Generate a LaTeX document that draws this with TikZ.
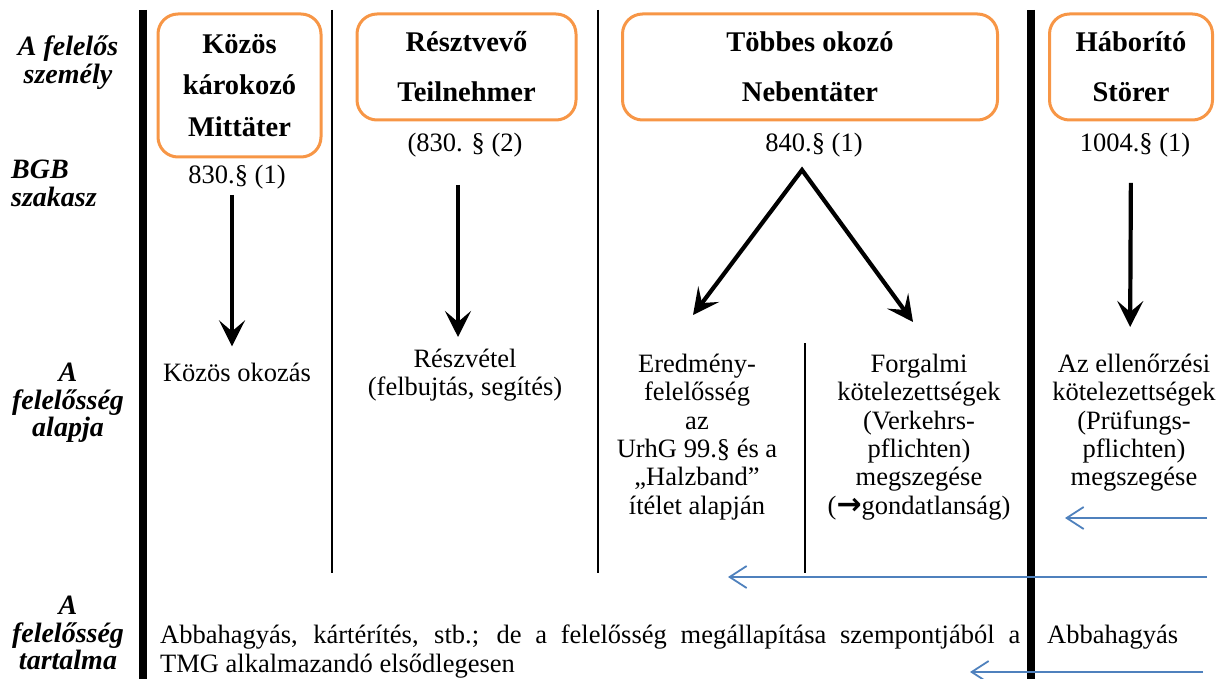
\documentclass[tikz,border=0pt]{standalone}
\usepackage{fontspec}
\setmainfont{Liberation Serif}
\newfontfamily\arrowfont{DejaVu Sans}
\usetikzlibrary{arrows.meta, positioning}
\definecolor{boxorange}{HTML}{F79646}
\definecolor{arrowblue}{HTML}{4F81BD}

\begin{document}
\begin{tikzpicture}[x=1pt, y=-1pt,
    rowlabel/.style={font=\bfseries\itshape\fontsize{28}{27.5}\selectfont, align=center, inner sep=0pt},
    persbox/.style={draw=boxorange, line width=3pt, rounded corners=20pt, align=center, inner sep=0pt,
                    minimum height=106pt, font=\bfseries\fontsize{28.5}{50}\selectfont},
    body/.style={font=\fontsize{26.5}{28.3}\selectfont, align=center, inner sep=0pt},
    thickrule/.style={line width=8pt},
    thinrule/.style={line width=1.6pt},
    bigarrow/.style={line width=4.2pt, line join=miter, -{Stealth[length=26pt, width=26pt, inset=11pt]}},
    backarrow/.style={arrowblue, line width=1.8pt, -{Straight Barb[length=17pt, width=22pt]}}
]
\useasboundingbox (0,0) rectangle (1217,679);

% row labels
\node[rowlabel, anchor=north] (lszem) at (68,36) {A felelős\\személy};
\node[rowlabel, anchor=north west, align=left] (lbgb) at (11,160) {BGB\\szakasz};
\node[rowlabel, anchor=north] (lalap) at (68,363) {A\\felelősség\\alapja};
\node[rowlabel, anchor=north] (ltart) at (68,596) {A\\felelősség\\tartalma};

% column rules
\draw[thickrule] (143,10) -- (143,679);
\draw[thinrule] (332,10) -- (332,573);
\draw[thinrule] (598,10) -- (598,573);
\draw[thinrule] (805,343) -- (805,573);
\draw[thickrule] (1031,10) -- (1031,679);

% persons
\node[persbox, minimum width=163pt, minimum height=143pt,
      font=\bfseries\fontsize{28.5}{41.5}\selectfont] (mittater) at (239.5,85.5) {Közös\\károkozó\\Mittäter};
\node[persbox, minimum width=219pt] (teilnehmer) at (466.5,67) {Résztvevő\\Teilnehmer};
\node[persbox, minimum width=375pt] (nebentater) at (810,67) {Többes okozó\\Nebentäter};
\node[persbox, minimum width=163pt] (storer) at (1131,67) {Háborító\\Störer};

% BGB sections
\node[body, anchor=base] (s830a) at (237,183) {830.§ (1)};
\node[body, anchor=base] (s830b) at (465,152) {(830. § (2)};
\node[body, anchor=base] (s840) at (814,152) {840.§ (1)};
\node[body, anchor=base] (s1004) at (1135,152) {1004.§ (1)};

% basis of liability
\node[body, anchor=base] (bkozos) at (237,381) {Közös okozás};
\node[body, anchor=north] (breszv) at (465,349) {Részvétel\\(felbujtás, segítés)};
\node[body, anchor=north] (beredm) at (697,354) {Eredmény-\\felelősség\\az\\UrhG 99.§ és a\\„Halzband”\\ítélet alapján};
\node[body, anchor=north] (bforg) at (919,354) {Forgalmi\\kötelezettségek\\(Verkehrs-\\pflichten)\\megszegése\\({\arrowfont\bfseries\fontsize{30}{28.3}\selectfont →}gondatlanság)};
\node[body, anchor=north] (bell) at (1134,354) {Az ellenőrzési\\kötelezettségek\\(Prüfungs-\\pflichten)\\megszegése};

% content of liability
\node[body, anchor=north west, text width=860pt, align=justify] (tmg) at (160,625)
    {Abbahagyás, kártérítés, stb.; de a felelősség megállapítása szempontjából a\linebreak TMG alkalmazandó elsődlegesen};
\node[body, anchor=base west] (abbah) at (1047,643) {Abbahagyás};

% arrows
\draw[bigarrow, shorten <=6pt, shorten >=16pt] ([xshift=-5pt]s830a.south) -- ([xshift=-5pt]bkozos.north);
\draw[bigarrow, shorten <=27pt, shorten >=12pt] ([xshift=-7pt]s830b.south) -- ([xshift=-7pt]breszv.north);
\draw[bigarrow, shorten <=25pt, shorten >=27pt] ([xshift=-4pt]s1004.south) -- ([xshift=-4pt]bell.north);
\coordinate (apex) at (802,170);
\coordinate (vleft) at (693,315);
\coordinate (vright) at (913,322);
\draw[bigarrow, {Stealth[length=26pt, width=26pt, inset=11pt]}-{Stealth[length=26pt, width=26pt, inset=11pt]}]
    (vleft) -- (apex) -- (vright);

\coordinate (b1) at (1207,518);
\coordinate (b1tip) at (1065,518);
\coordinate (b2) at (1207,577);
\coordinate (b2tip) at (728,577);
\coordinate (b3) at (1203,672);
\coordinate (b3tip) at (970,672);
\draw[backarrow] (b1) -- (b1tip);
\draw[backarrow] (b2) -- (b2tip);
\draw[backarrow] (b3) -- (b3tip);
\end{tikzpicture}
\end{document}
